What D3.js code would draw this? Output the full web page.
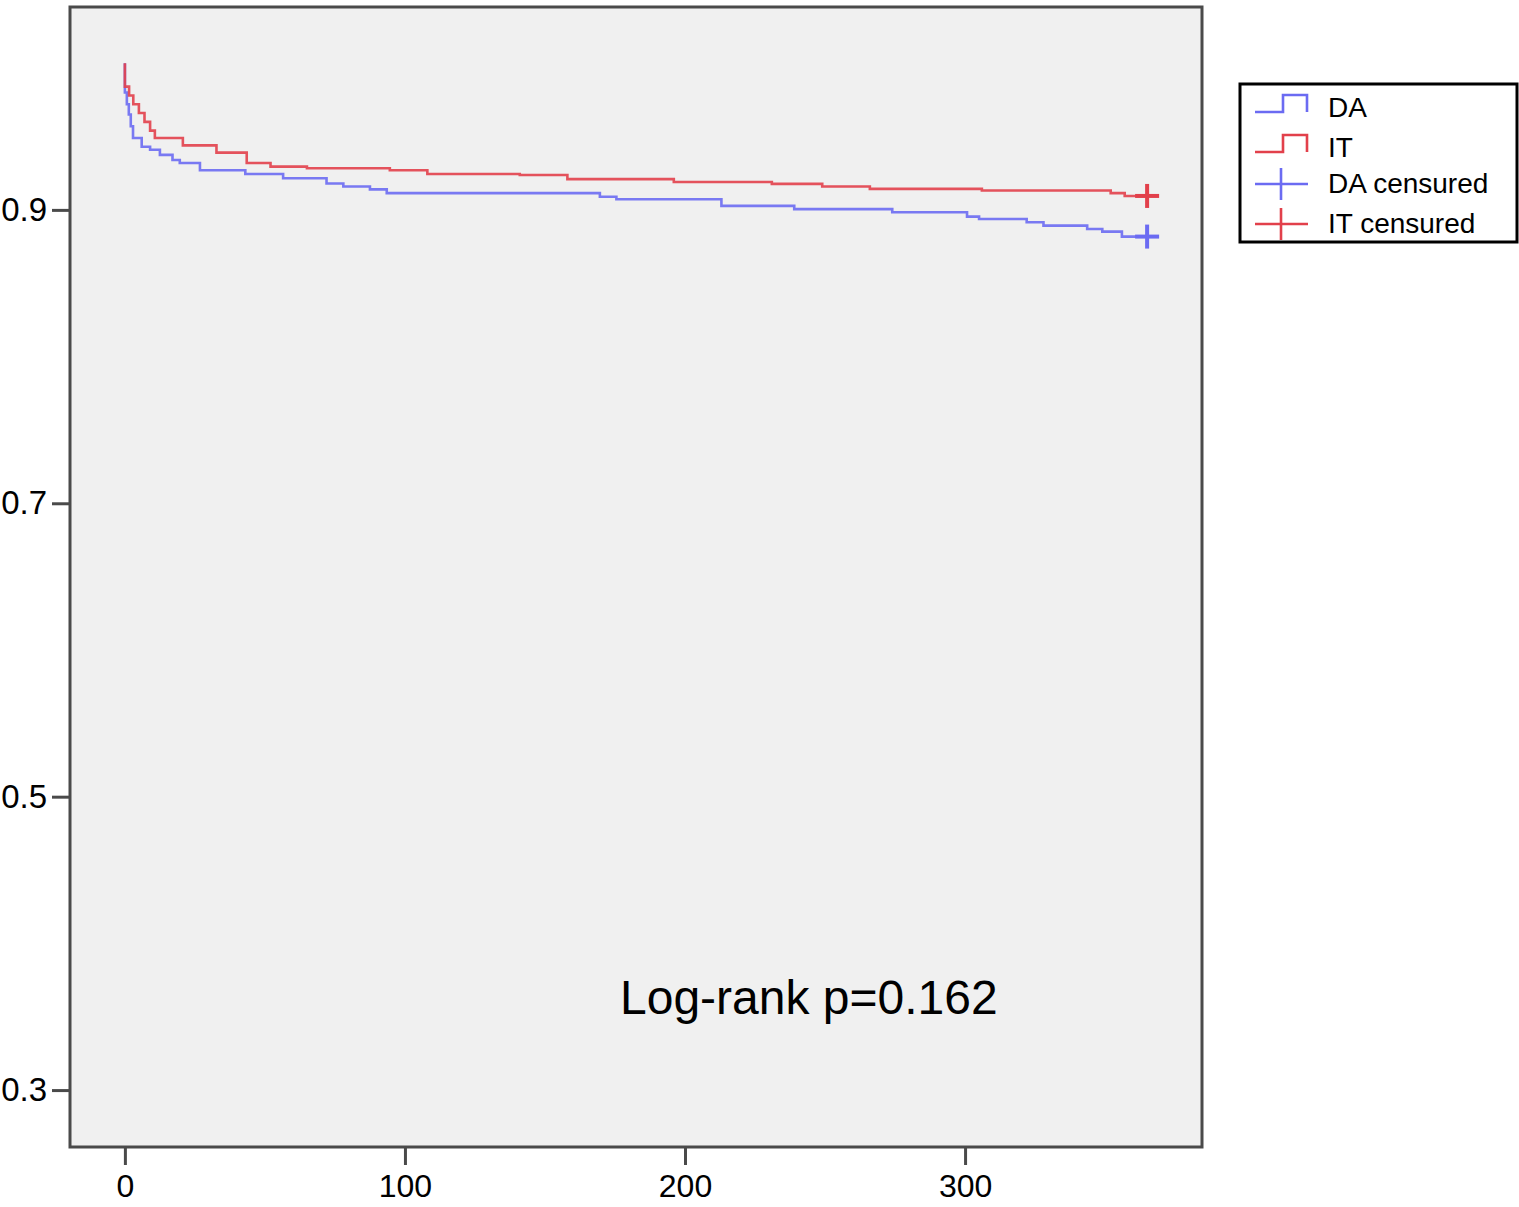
<!DOCTYPE html>
<html>
<head>
<meta charset="utf-8">
<script src="https://cdn.jsdelivr.net/npm/d3@7"></script>
<style>
  body { margin: 0; background: #fff; }
  svg { display: block; font-family: "Liberation Sans", Arial, sans-serif; }
</style>
</head>
<body>
<svg id="km"></svg>
<script>
// survival curves (time in days, cumulative survival)
const daTime = [0, 0, 0.7, 1.4, 2.1, 2.9, 6, 9, 12.5, 17, 19.6, 26.8, 43, 56.5, 72, 78, 87.5, 93.5,
  169.6, 175.5, 213, 239, 274, 300.7, 305, 322, 328, 343.6, 349, 356, 365];
const daSurv = [1.0, 0.980, 0.972, 0.965, 0.957, 0.949, 0.943, 0.941, 0.9375, 0.934, 0.932, 0.927, 0.9245, 0.9216, 0.918, 0.9159, 0.914, 0.9114,
  0.909, 0.9073, 0.9027, 0.9005, 0.8984, 0.8954, 0.8938, 0.8916, 0.8893, 0.887, 0.8852, 0.8818, 0.8818];

const itTime = [0, 0, 1.5, 3, 5, 7, 9, 10.7, 20.7, 32.7, 43.5, 52, 65, 94.6, 108, 141, 158, 196,
  231, 249, 266, 306, 352, 357, 365];
const itSurv = [1.0, 0.984, 0.978, 0.972, 0.966, 0.960, 0.954, 0.949, 0.944, 0.939, 0.932, 0.9295, 0.9284, 0.927, 0.9245, 0.9238, 0.921, 0.919,
  0.9177, 0.9159, 0.9143, 0.9132, 0.9114, 0.9095, 0.9095];

// censored marks
const daCensTime = [365];
const daCensSurv = [0.8818];
const itCensTime = [365];
const itCensSurv = [0.9095];

const xTicks = [0, 100, 200, 300];
const yTicks = [0.3, 0.5, 0.7, 0.9];
const legendLabels = ["DA", "IT", "DA censured", "IT censured"];

const blue = "#6b6bf2";
const red = "#e2404b";

const width = 1519, height = 1207;
const margin = {top: 7, left: 70, bottom: 60, right: 317};

const svg = d3.select("#km").attr("width", width).attr("height", height);

const x = d3.scaleLinear()
  .domain([-19.6, 384.6])
  .range([margin.left, width - margin.right]);

const y = d3.scaleLinear()
  .domain([0.2612, 1.0383])
  .range([height - margin.bottom, margin.top]);

// plot panel
svg.append("rect")
  .attr("x", x.range()[0]).attr("y", y.range()[1])
  .attr("width", x.range()[1] - x.range()[0])
  .attr("height", y.range()[0] - y.range()[1])
  .attr("fill", "#f0f0f0")
  .attr("stroke", "#4a4a4a")
  .attr("stroke-width", 3);

const xAxis = g => g
  .attr("transform", `translate(0,${y.range()[0]})`)
  .call(d3.axisBottom(x).tickValues(xTicks).tickSize(18).tickPadding(9).tickFormat(d3.format("d")))
  .call(g => g.select(".domain").remove())
  .call(g => g.selectAll(".tick line").attr("stroke", "#4a4a4a").attr("stroke-width", 3))
  .call(g => g.selectAll("text").attr("fill", "#000").attr("font-size", 32).attr("font-family", null));

const yAxis = g => g
  .attr("transform", `translate(${x.range()[0]},0)`)
  .call(d3.axisLeft(y).tickValues(yTicks).tickSize(18).tickPadding(5).tickFormat(d3.format(".1f")))
  .call(g => g.select(".domain").remove())
  .call(g => g.selectAll(".tick line").attr("stroke", "#4a4a4a").attr("stroke-width", 3))
  .call(g => g.selectAll("text").attr("fill", "#000").attr("font-size", 33).attr("font-family", null));

svg.append("g").call(xAxis);
svg.append("g").call(yAxis);

const line = d3.line()
  .x(d => x(d[0]))
  .y(d => y(d[1]))
  .curve(d3.curveStepAfter);

const series = [
  {name: "DA", pts: d3.zip(daTime, daSurv), cens: d3.zip(daCensTime, daCensSurv), color: blue},
  {name: "IT", pts: d3.zip(itTime, itSurv), cens: d3.zip(itCensTime, itCensSurv), color: red}
];

// blue first so red sits on top
svg.append("g")
  .selectAll("path")
  .data(series)
  .join("path")
  .attr("d", d => line(d.pts))
  .attr("fill", "none")
  .attr("stroke", d => d.color)
  .attr("stroke-width", 2.6)
  .attr("stroke-opacity", 0.9);

const cross = 12;
series.forEach(s => {
  const g = svg.append("g").attr("stroke", s.color).attr("stroke-width", 4);
  s.cens.forEach(c => {
    g.append("line")
      .attr("x1", x(c[0]) - cross).attr("x2", x(c[0]) + cross)
      .attr("y1", y(c[1])).attr("y2", y(c[1]));
    g.append("line")
      .attr("x1", x(c[0])).attr("x2", x(c[0]))
      .attr("y1", y(c[1]) - cross).attr("y2", y(c[1]) + cross);
  });
});

// annotation
svg.append("text")
  .attr("x", x(176.8))
  .attr("y", y(0.3521))
  .attr("font-size", 48)
  .attr("fill", "#000")
  .text("Log-rank p=0.162");

// legend
const lg = svg.append("g").attr("transform", "translate(1240,84)");
lg.append("rect")
  .attr("width", 277).attr("height", 158)
  .attr("fill", "#fff").attr("stroke", "#000").attr("stroke-width", 3);

const legendColors = [blue, red, blue, red];
const rowY = [28, 68, 100, 140];

legendLabels.forEach((lab, i) => {
  const row = lg.append("g").attr("transform", `translate(0,${rowY[i]})`);
  if (i < 2) {
    row.append("path")
      .attr("d", "M15,0 H43 V-17 H67 V0")
      .attr("fill", "none")
      .attr("stroke", legendColors[i])
      .attr("stroke-width", 2.6);
  } else {
    row.append("line").attr("x1", 15).attr("x2", 68).attr("y1", 0).attr("y2", 0)
      .attr("stroke", legendColors[i]).attr("stroke-width", 2.6);
    row.append("line").attr("x1", 41).attr("x2", 41).attr("y1", -16).attr("y2", 16)
      .attr("stroke", legendColors[i]).attr("stroke-width", 2.6);
  }
  row.append("text")
    .attr("x", 88)
    .attr("y", i < 2 ? 5 : 9)
    .attr("font-size", 28)
    .attr("fill", "#000")
    .text(lab);
});
</script>
</body>
</html>
